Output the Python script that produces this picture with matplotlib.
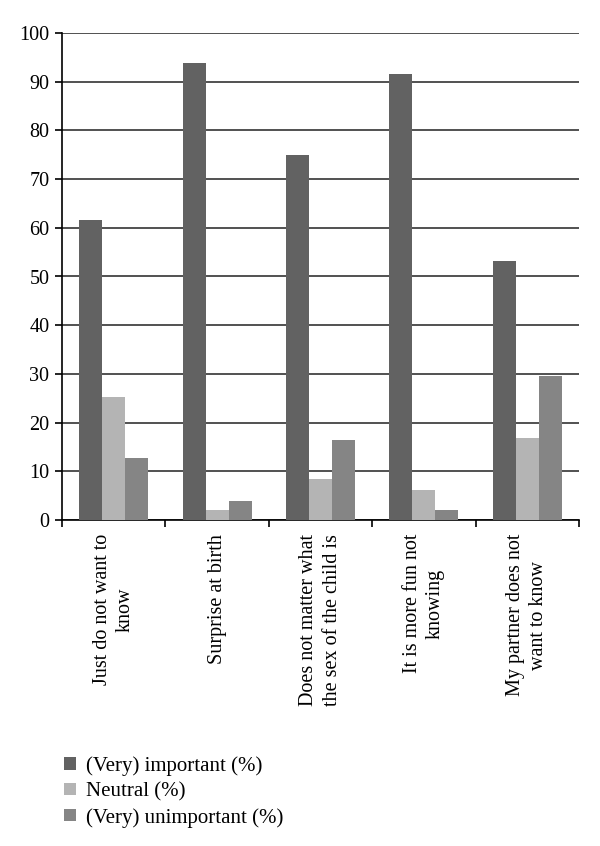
import numpy as np
import matplotlib
matplotlib.use("Agg")
import matplotlib.pyplot as plt
from matplotlib.patches import Patch

plt.rcParams['font.family'] = ['Liberation Serif', 'DejaVu Serif']

categories = [
    "Just do not want to\nknow",
    "Surprise at birth",
    "Does not matter what\nthe sex of the child is",
    "It is more fun not\nknowing",
    "My partner does not\nwant to know",
]
series_names = ["(Very) important (%)", "Neutral (%)", "(Very) unimportant (%)"]
important = [61.6, 93.9, 74.9, 91.6, 53.1]
neutral = [25.3, 2.0, 8.4, 6.1, 16.8]
unimportant = [12.7, 3.9, 16.4, 2.0, 29.6]
y_ticks = [0, 10, 20, 30, 40, 50, 60, 70, 80, 90, 100]

colors = ["#626262", "#b4b4b4", "#858585"]

fig = plt.figure(figsize=(6.0, 8.46), dpi=100)
ax = fig.add_axes([62 / 600, 1 - 520 / 846, (579 - 62) / 600, (520 - 33) / 846])

x = np.arange(len(categories))
w = 0.222
for i, (vals, col) in enumerate(zip([important, neutral, unimportant], colors)):
    ax.bar(x + (i - 1) * w, vals, width=w, color=col, edgecolor="none", zorder=3)

ax.set_ylim(0, 100)
ax.set_xlim(-0.5, len(categories) - 0.5)
ax.set_yticks(y_ticks)
ax.yaxis.grid(True, color="#333333", linewidth=1.2, zorder=0)
ax.set_axisbelow(True)

for s in ["top", "right"]:
    ax.spines[s].set_visible(False)
for s in ["left", "bottom"]:
    ax.spines[s].set_color("black")
    ax.spines[s].set_linewidth(1.2)

ax.tick_params(axis="y", length=5, width=1.2, labelsize=14.5, pad=4)
ax.set_xticks(x)
ax.set_xticklabels(categories, rotation=90, fontsize=14.5, ha="center", va="top",
                   multialignment="center", linespacing=1.3)
ax.tick_params(axis="x", which="major", length=0, pad=10)
ax.set_xticks(np.arange(-0.5, len(categories)), minor=True)
ax.tick_params(axis="x", which="minor", length=5, width=1.2, direction="out")

handles = [Patch(facecolor=c, edgecolor="none") for c in colors]
fig.legend(handles, series_names, loc="upper left",
           bbox_to_anchor=(56 / 600, 1 - 748 / 846), frameon=False,
           fontsize=15, handlelength=0.55, handleheight=0.55,
           handletextpad=0.5, labelspacing=0.3, borderaxespad=0)

fig.savefig("out.png", dpi=100)
